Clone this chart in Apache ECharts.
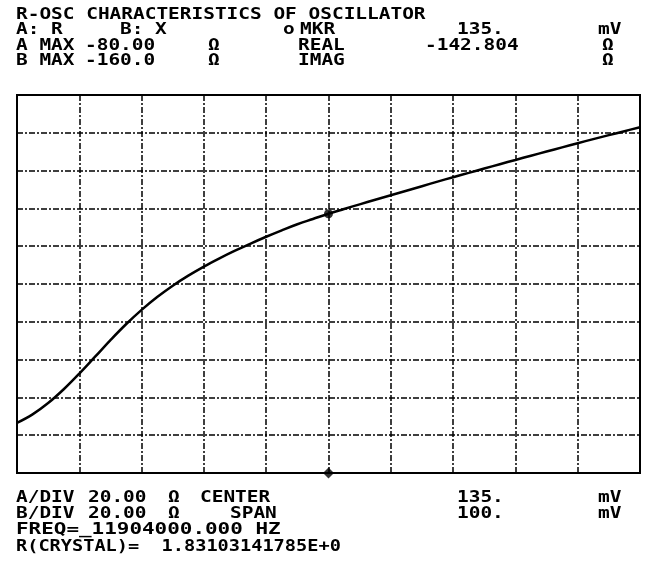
<!DOCTYPE html>
<html>
<head>
<meta charset="utf-8">
<script src="https://cdn.jsdelivr.net/npm/echarts@6.0.0/dist/echarts.min.js"></script>
<style>
html,body{margin:0;padding:0;background:#fff;}
#chart{width:647px;height:570px;}
</style>
</head>
<body>
<div id="chart"></div>
<script>
// Sweep voltage (mV) and real part of oscillator negative resistance (Ω)
var sweepMV = [85, 87.5, 90, 92.5, 95, 97.5, 100, 102.5, 105, 107.5, 110, 112.5, 115, 117.5, 120, 122.5, 125, 127.5, 130, 132.5, 135, 137.5, 140, 142.5, 145, 147.5, 150, 152.5, 155, 157.5, 160, 162.5, 165, 167.5, 170, 172.5, 175, 177.5, 180, 182.5, 185];
var realOhm = [-253.5, -249.0, -243.0, -235.7, -227.4, -218.6, -209.7, -201.3, -193.7, -186.9, -180.9, -175.6, -170.8, -166.45, -162.4, -158.6, -155.0, -151.6, -148.4, -145.6, -142.8, -140.3, -137.85, -135.45, -133.05, -130.65, -128.25, -125.85, -123.5, -121.2, -118.9, -116.6, -114.35, -112.1, -109.9, -107.7, -105.5, -103.35, -101.25, -99.15, -97.05];
var markerMV = 135;
var markerReal = -142.804;
var xMin = 85, xMax = 185, xInterval = 10;
var yMin = -280, yMax = -80, yInterval = 20;

// Header / footer text tokens: [text, left x, baseline y]
var headerTokens = [
  ['R-OSC CHARACTERISTICS OF OSCILLATOR', 16, 23, 'title'],
  ['A: R', 16, 38], ['B: X', 120, 38], ['o', 283, 38], ['MKR', 300, 38], ['135.', 457, 38], ['mV', 598, 38],
  ['A MAX', 16, 54], ['-80.00', 85, 54], ['Ω', 208, 54], ['REAL', 298, 54], ['-142.804', 425, 54], ['Ω', 602, 54],
  ['B MAX', 16, 69], ['-160.0', 85, 69], ['Ω', 208, 69], ['IMAG', 298, 69], ['Ω', 602, 69]
];
var footerTokens = [
  ['A/DIV', 16, 506], ['20.00', 88, 506], ['Ω', 168, 506], ['CENTER', 200, 506], ['135.', 457, 506], ['mV', 598, 506],
  ['B/DIV', 16, 522], ['20.00', 88, 522], ['Ω', 168, 522], ['SPAN', 230, 522], ['100.', 457, 522], ['mV', 598, 522],
  ['FREQ=_11904000.000 HZ', 16, 538, 'wide'],
  ['R(CRYSTAL)=  1.83103141785E+0', 16, 555, 'narrow']
];

var FS = 16;
function textEl(t) {
  var adv = 0.602 * FS;
  var pitch = t[3] === 'wide' ? 12.6 : (t[3] === 'narrow' ? 11.2 : 11.7);
  return {
    type: 'text',
    x: t[1],
    y: t[2],
    scaleX: pitch / adv,
    silent: true,
    style: {
      x: 0, y: 0,
      text: t[0],
      font: 'bold ' + FS + 'px "DejaVu Sans Mono"',
      fill: '#000',
      align: 'left',
      verticalAlign: 'bottom'
    }
  };
}

var graphics = headerTokens.concat(footerTokens).map(textEl);

var points = sweepMV.map(function (v, i) { return [v, realOhm[i]]; });

var chart = echarts.init(document.getElementById('chart'), null, {renderer: 'canvas'});
chart.setOption({
  backgroundColor: '#fff',
  animation: false,
  grid: {left: 17, right: 7, top: 95, bottom: 97, show: true, borderColor: '#000', borderWidth: 2, backgroundColor: 'transparent'},
  xAxis: {
    type: 'value', min: xMin, max: xMax, interval: xInterval,
    axisLabel: {show: false}, axisTick: {show: false},
    axisLine: {show: true, lineStyle: {color: '#000', width: 2}},
    splitLine: {show: true, lineStyle: {color: '#000', width: 1.5, type: [6, 2, 2, 2]}}
  },
  yAxis: {
    type: 'value', min: yMin, max: yMax, interval: yInterval,
    axisLabel: {show: false}, axisTick: {show: false},
    axisLine: {show: true, lineStyle: {color: '#000', width: 2}},
    splitLine: {show: true, lineStyle: {color: '#000', width: 1.5, type: [6, 2, 2, 2]}}
  },
  series: [
    {
      type: 'line', data: points, smooth: 0.4, showSymbol: false,
      lineStyle: {color: '#000', width: 2.5}, z: 5
    },
    {
      type: 'scatter', data: [[markerMV, markerReal]], symbol: 'circle', symbolSize: 9,
      itemStyle: {color: '#000'}, z: 6
    },
    {
      type: 'scatter', data: [[markerMV, yMin]], symbol: 'diamond', symbolSize: [11, 11],
      itemStyle: {color: '#000'}, z: 6
    }
  ],
  graphic: graphics
});
</script>
</body>
</html>
